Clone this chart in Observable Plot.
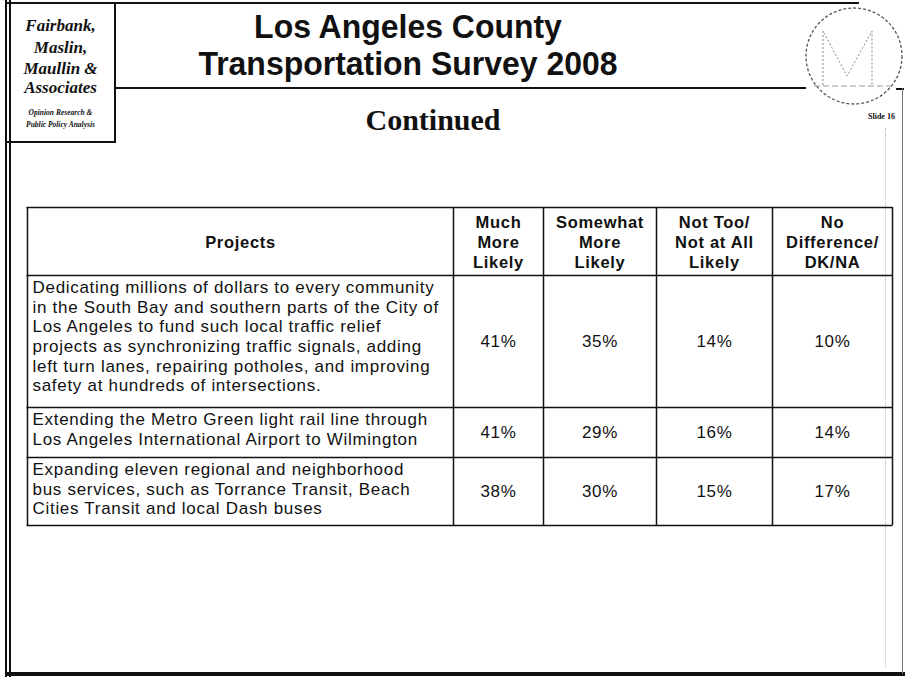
<!DOCTYPE html>
<html>
<head>
<meta charset="utf-8">
<script src="https://cdn.jsdelivr.net/npm/d3@7"></script>
<script src="https://cdn.jsdelivr.net/npm/@observablehq/plot@0.6"></script>
<style>
  html, body { margin: 0; padding: 0; background: #fff; }
  #slide { position: relative; width: 905px; height: 677px; overflow: hidden; background: #fff; font-family: "Liberation Sans", Arial, sans-serif; }
  .abs { position: absolute; }
  .hl { position: absolute; background: #111; }
  #logo { position: absolute; left: 7px; top: 3px; width: 107px; height: 138px; border-right: 2px solid #111; border-bottom: 2px solid #111; font-family: "Liberation Serif", "Times New Roman", serif; font-style: italic; font-weight: bold; text-align: center; color: #111; }
  #logo .big { position: absolute; left: 0; width: 107px; font-size: 17px; line-height: 20px; }
  #logo .small { position: absolute; left: 0; width: 107px; font-size: 7.5px; line-height: 12px; }
  #title { position: absolute; left: 108px; width: 600px; top: 8px; text-align: center; font-weight: bold; font-size: 34px; line-height: 37px; color: #111; transform: scaleX(0.94); }
  #continued { position: absolute; left: 283px; width: 300px; top: 103px; text-align: center; font-family: "Liberation Serif", "Times New Roman", serif; font-weight: bold; font-size: 30px; color: #111; }
  #slideno { position: absolute; left: 868px; top: 112px; font-family: "Liberation Serif", serif; font-weight: bold; font-size: 8px; color: #111; }
  #chart { position: absolute; left: 0; top: 0; }
  #chart svg text { letter-spacing: 0.7px; }
</style>
</head>
<body>
<div id="slide">
  <!-- frame -->
  <div class="hl" style="left:5px; top:0; width:7px; height:677px; background:none; border-left:6px double #111; width:0;"></div>
  <div class="hl" style="left:7px; top:2px; width:852px; height:2px;"></div>
  <div class="hl" style="left:5px; top:672px; width:900px; height:4px;"></div>
  <div class="hl" style="left:114px; top:87px; width:692px; height:2px;"></div>
  <div class="hl" style="left:896px; top:88px; width:8px; height:2px;"></div>
  <div class="hl" style="left:902px; top:88px; width:1px; height:586px; background:#777;"></div>
  <div class="abs" style="left:885px; top:128px; width:0; height:540px; border-left:1px dotted #bbb;"></div>

  <div id="logo">
    <div class="big" style="top:13px;">Fairbank,</div>
    <div class="big" style="top:35px;">Maslin,</div>
    <div class="big" style="top:56px;">Maullin &amp;</div>
    <div class="big" style="top:75px;">Associates</div>
    <div class="small" style="top:104px;">Opinion Research &amp;</div>
    <div class="small" style="top:116px;">Public Policy Analysis</div>
  </div>

  <svg class="abs" style="left:800px; top:0;" width="105" height="115">
    <circle cx="54" cy="56" r="48" fill="none" stroke="#555" stroke-width="1.3" stroke-dasharray="3 2"/>
    <path d="M23,85 V31 L47,76 L72,31 V85" fill="none" stroke="#888" stroke-width="1" stroke-dasharray="2 2"/>
    <path d="M14,86 H94" fill="none" stroke="#999" stroke-width="1" stroke-dasharray="6 3"/>
  </svg>

  <div id="title">Los Angeles County<br>Transportation Survey 2008</div>
  <div id="continued">Continued</div>
  <div id="slideno">Slide 16</div>

  <div id="chart"></div>
</div>
<script>
// ---- data ----
const columns = [
  "Projects",
  "Much\nMore\nLikely",
  "Somewhat\nMore\nLikely",
  "Not Too/\nNot at All\nLikely",
  "No\nDifference/\nDK/NA"
];
const projects = [
  "Dedicating millions of dollars to every community\nin the South Bay and southern parts of the City of\nLos Angeles to fund such local traffic relief\nprojects as synchronizing traffic signals, adding\nleft turn lanes, repairing potholes, and improving\nsafety at hundreds of intersections.",
  "Extending the Metro Green light rail line through\nLos Angeles International Airport to Wilmington",
  "Expanding eleven regional and neighborhood\nbus services, such as Torrance Transit, Beach\nCities Transit and local Dash buses"
];
const muchMore     = [41, 41, 38];
const somewhatMore = [35, 29, 30];
const notTooLikely = [14, 16, 15];
const noDifference = [10, 14, 17];

// ---- layout (table geometry in table units) ----
const colWidths  = [426, 90, 113, 116, 120];
const rowHeights = [68, 132, 50, 68];
const colEdges = [0]; colWidths.forEach(w => colEdges.push(colEdges[colEdges.length - 1] + w));
const rowEdges = [0]; rowHeights.forEach(h => rowEdges.push(rowEdges[rowEdges.length - 1] + h));
const tableW = colEdges[colEdges.length - 1];
const tableH = rowEdges[rowEdges.length - 1];

const series = [muchMore, somewhatMore, notTooLikely, noDifference];
const cells = projects.flatMap((p, i) => series.map((s, j) => ({row: i, col: j + 1, value: s[i]})));
const headerCells = columns.map((c, i) => ({col: i, label: c}));
const projectCells = projects.map((p, i) => ({row: i, label: p}));

const colMid = c => (colEdges[c] + colEdges[c + 1]) / 2;
const rowMid = r => (rowEdges[r] + rowEdges[r + 1]) / 2;

const chart = Plot.plot({
  width: 905,
  height: 677,
  margin: 0,
  style: {background: "transparent", fontFamily: "'Liberation Sans', Arial, sans-serif", color: "#111"},
  x: {domain: [0, tableW], range: [27, 892], axis: null},
  y: {domain: [0, tableH], range: [207, 525], axis: null},
  marks: [
    Plot.ruleX(colEdges, {x: d => d, y1: 0, y2: tableH, stroke: "#111", strokeWidth: 1.5}),
    Plot.ruleY(rowEdges, {y: d => d, x1: -0.5, x2: tableW + 0.5, stroke: "#111", strokeWidth: 1.5}),
    Plot.text(headerCells, {
      x: d => colMid(d.col), y: rowMid(0), text: "label",
      fontWeight: "bold", fontSize: 16.5, lineHeight: 1.21, fill: "#111"
    }),
    Plot.text(projectCells, {
      x: 5, y: d => rowEdges[d.row + 1] + 4, text: "label",
      textAnchor: "start", lineAnchor: "top", fontSize: 17, lineHeight: 1.15, fill: "#111"
    }),
    Plot.text(cells, {
      x: d => colMid(d.col), y: d => rowMid(d.row + 1), text: d => `${d.value}%`,
      fontSize: 17, fill: "#111"
    })
  ]
});
document.getElementById("chart").appendChild(chart);
</script>
</body>
</html>
